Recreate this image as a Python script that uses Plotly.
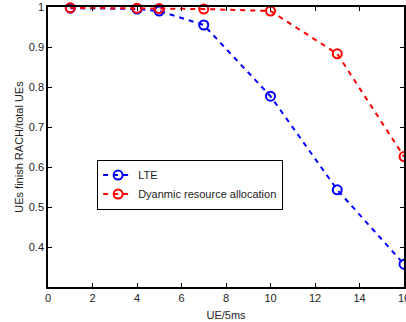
import plotly.graph_objects as go

x_vals = [1, 4, 5, 7, 10, 13, 16]
lte = [0.997, 0.995, 0.990, 0.955, 0.777, 0.543, 0.357]
dyn = [0.998, 0.997, 0.996, 0.995, 0.990, 0.883, 0.626]
x_ticks = [0, 2, 4, 6, 8, 10, 12, 14, 16]
y_ticks = [0.4, 0.5, 0.6, 0.7, 0.8, 0.9, 1.0]
y_ticktext = ["0.4", "0.5", "0.6", "0.7", "0.8", "0.9", "1"]

font = "Liberation Sans, Arial, sans-serif"

fig = go.Figure()
fig.add_trace(go.Scatter(
    x=x_vals, y=lte, name="LTE", mode="lines+markers",
    line=dict(color="#0000ff", width=2, dash="5px,5px"),
    marker=dict(symbol="circle-open", size=9, color="#0000ff", line=dict(width=2)),
    cliponaxis=False))
fig.add_trace(go.Scatter(
    x=x_vals, y=dyn, name="Dyanmic resource allocation", mode="lines+markers",
    line=dict(color="#ff0000", width=2, dash="5px,5px"),
    marker=dict(symbol="circle-open", size=9, color="#ff0000", line=dict(width=2)),
    cliponaxis=False))

axis_common = dict(showline=True, linecolor="black", linewidth=1.5, mirror="ticks",
                   ticks="inside", ticklen=4, tickcolor="black", showgrid=False,
                   zeroline=False, ticklabeloverflow="allow", automargin=False,
                   tickfont=dict(family=font, size=11, color="#222"))

fig.update_layout(
    width=406, height=322,
    margin=dict(l=48, r=2, t=7, b=35),
    paper_bgcolor="white", plot_bgcolor="white",
    font=dict(family=font, size=11, color="#222"),
    xaxis=dict(range=[0, 16], tickvals=x_ticks,
               title=dict(text="UE/5ms", font=dict(size=11), standoff=8), **axis_common),
    yaxis=dict(range=[0.3, 1.0], tickvals=y_ticks, ticktext=y_ticktext,
               title=dict(text="UEs finish RACH/total UEs", font=dict(size=11), standoff=3), **axis_common),
    legend=dict(x=0.138, y=0.455, xanchor="left", yanchor="top",
                bgcolor="white", bordercolor="black", borderwidth=1,
                font=dict(family=font, size=11, color="#222"),
                itemwidth=30, tracegroupgap=0),
    showlegend=True,
)

fig.write_html("out.html")
